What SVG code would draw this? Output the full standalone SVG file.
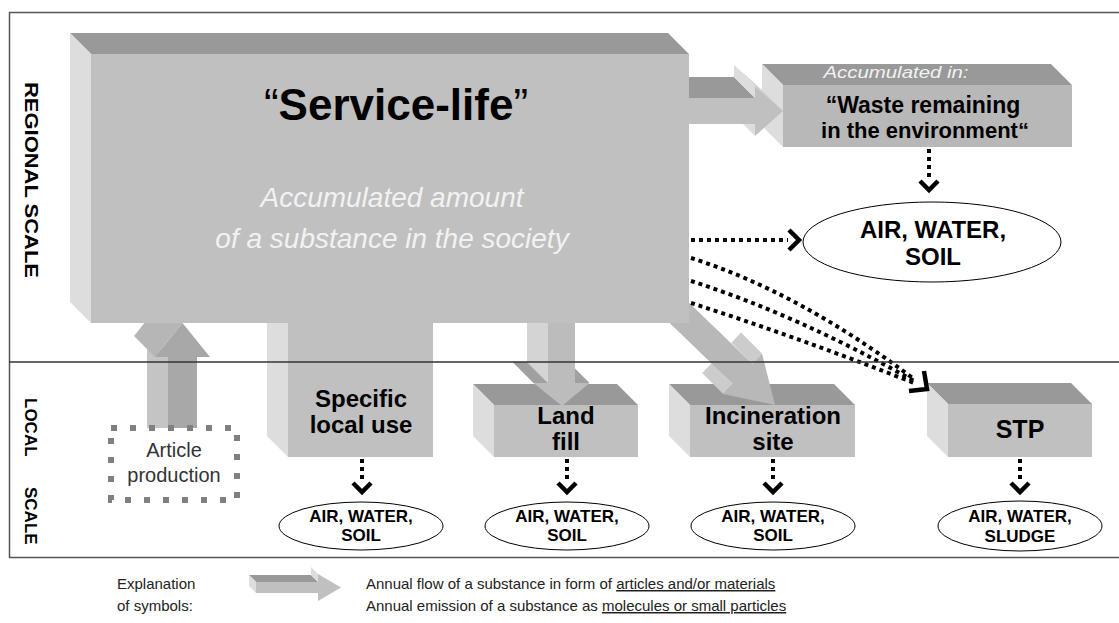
<svg xmlns="http://www.w3.org/2000/svg" width="1119" height="623" viewBox="0 0 1119 623">
<defs>
<style>
.top{fill:#999999}
.side{fill:#dddddd}
.front{fill:#c0c0c0}
.t{font-family:"Liberation Sans",Arial,sans-serif;text-anchor:middle}
.b{font-weight:bold;fill:#000}
.em{fill:none;stroke:#000;stroke-width:4;stroke-dasharray:4 4}
.chev{fill:none;stroke:#000;stroke-width:4.5;stroke-linejoin:miter}
.ell{fill:#fff;stroke:#000;stroke-width:1}
.leg{font-family:"Liberation Sans",Arial,sans-serif;font-size:15px;fill:#222}
</style>
</defs>
<rect width="1119" height="623" fill="#ffffff"/>
<g id="frame">
<rect x="9.5" y="12.5" width="1115" height="545" fill="none" stroke="#555" stroke-width="1.5"/>
</g>
<g id="scale-labels">
<text class="t b" font-size="19" textLength="196" lengthAdjust="spacingAndGlyphs" transform="translate(25,180) rotate(90)">REGIONAL SCALE</text>
<text class="b" font-family="Liberation Sans, Arial, sans-serif" font-size="17" transform="translate(25,0) rotate(90)"><tspan x="398">LOCAL</tspan> <tspan x="487">SCALE</tspan></text>
</g>

<g id="specific-local-use">
<polygon class="side" points="267,279 288,300 288,457 267,436"/>
<rect class="front" x="288" y="300" width="145" height="157"/>
<text class="t b" font-size="24" x="361" y="407">Specific</text>
<text class="t b" font-size="24" x="361" y="433">local use</text>
</g>
<g id="land-fill">
<polygon class="top" points="473,384 617,384 638,405 494,405"/>
<polygon class="side" points="473,384 494,405 494,457 473,436"/>
<rect class="front" x="494" y="405" width="144" height="52"/>
</g>
<g id="incineration-site">
<polygon class="top" points="669,384 834,384 855,405 690,405"/>
<polygon class="side" points="669,384 690,405 690,457 669,436"/>
<rect class="front" x="690" y="405" width="165" height="52"/>
</g>
<g id="stp">
<polygon class="top" points="927,383 1071,383 1092,404 948,404"/>
<polygon class="side" points="927,383 948,404 948,457 927,436"/>
<rect class="front" x="948" y="404" width="144" height="53"/>
<text class="t b" font-size="25" x="1020" y="438">STP</text>
</g>
<g id="waste">
<polygon class="top" points="762,64 1051,64 1072,85 783,85"/>
<polygon class="side" points="762,64 783,85 783,147 762,126"/>
<rect x="783" y="85" width="289" height="62" fill="#b8b8b8"/>
<text class="t" font-size="17" font-style="italic" fill="#f2f2f2" textLength="145" lengthAdjust="spacingAndGlyphs" x="896" y="78">Accumulated in:</text>
<text class="t b" font-size="23" x="923" y="113">“Waste remaining</text>
<text class="t b" font-size="22" x="925" y="138">in the environment“</text>
</g>

<g id="flows">
<g id="flow-article">
<polygon points="168,357 168,450 147,429 147,336" fill="#c4c4c4"/>
<polygon points="155,357 182.5,323 161.5,302 134,336" fill="#b6b6b6"/>
<polygon points="182.5,323 210,357 197,357 197,450 168,450 168,357 155,357" fill="#a8a8a8"/>
</g>
<g id="flow-landfill">
<polygon points="548,290 548,383 527,362 527,269" fill="#d4d4d4"/>
<polygon points="533.5,383 548,383 527,362 512.5,362" fill="#a0a0a0"/>
<polygon points="575,383 589.5,383 568.5,362 554,362" fill="#a0a0a0"/>
<polygon points="548,290 575,290 575,383 589.5,383 562,406 533.5,383 548,383" fill="#bcbcbc"/>
</g>
<g id="flow-incineration">
<polygon points="762,353.6 752.3,363.7 731.3,342.7 741,332.6" fill="#cccccc"/>
<polygon points="732.9,383.9 723.2,394 702.2,373 711.9,362.9" fill="#cccccc"/>
<polygon points="658.7,273.5 752.3,363.7 762,353.6 775,405 723.2,394 732.9,383.9 639.3,293.7" fill="#b8b8b8"/>
</g>
<g id="flow-waste">
<polygon points="689,98 755,98 734,77 668,77" fill="#999999"/>
<polygon points="755,86 783,111 762,90 734,65" fill="#d0d0d0"/>
<polygon points="755,86 755,98 734,77 734,65" fill="#dddddd"/>
<polygon points="755,124 755,136 734,115 734,103" fill="#dddddd"/>
<polygon points="689,98 755,98 755,86 783,111 755,136 755,124 689,124" fill="#c0c0c0"/>
</g>
</g>

<g id="service-life">
<polygon class="top" points="70,33 668,33 689,54 91,54"/>
<polygon class="side" points="70,33 91,54 91,323 70,302"/>
<rect class="front" x="91" y="54" width="598" height="269"/>
<text class="t b" font-size="44" x="396" y="120"><tspan font-weight="normal">“</tspan>Service-life<tspan font-weight="normal">”</tspan></text>
<text class="t" font-size="28" font-style="italic" fill="#f2f2f2" x="392" y="207">Accumulated amount</text>
<text class="t" font-size="28" font-style="italic" fill="#f2f2f2" x="392" y="248">of a substance in the society</text>
</g>

<g id="article-production">
<rect x="111" y="428" width="126" height="72" fill="#ffffff" stroke="#808080" stroke-width="6" stroke-dasharray="6 13"/>
<text class="t" font-size="20" fill="#333" x="174" y="457">Article</text>
<text class="t" font-size="20" fill="#333" x="174" y="482">production</text>
</g>

<g id="landfill-label">
<text class="t b" font-size="24" x="566" y="424">Land</text>
<text class="t b" font-size="24" x="566" y="450">fill</text>
</g>
<g id="incineration-label">
<text class="t b" font-size="24" x="773" y="424">Incineration</text>
<text class="t b" font-size="24" x="773" y="450">site</text>
</g>

<g id="env-regional">
<ellipse class="ell" cx="932" cy="242" rx="129" ry="40"/>
<text class="t b" font-size="24" x="933" y="238">AIR, WATER,</text>
<text class="t b" font-size="24" x="933" y="265">SOIL</text>
</g>
<g id="env-specific">
<ellipse class="ell" cx="361" cy="526" rx="82" ry="24"/>
<text class="t b" font-size="17" x="361" y="522">AIR, WATER,</text>
<text class="t b" font-size="17" x="361" y="541">SOIL</text>
</g>
<g id="env-landfill">
<ellipse class="ell" cx="567" cy="526" rx="82" ry="24"/>
<text class="t b" font-size="17" x="567" y="522">AIR, WATER,</text>
<text class="t b" font-size="17" x="567" y="541">SOIL</text>
</g>
<g id="env-incineration">
<ellipse class="ell" cx="773" cy="526" rx="82" ry="24"/>
<text class="t b" font-size="17" x="773" y="522">AIR, WATER,</text>
<text class="t b" font-size="17" x="773" y="541">SOIL</text>
</g>
<g id="env-stp">
<ellipse class="ell" cx="1020" cy="526" rx="82" ry="25"/>
<text class="t b" font-size="17" x="1020" y="522">AIR, WATER,</text>
<text class="t b" font-size="17" x="1020" y="542">SLUDGE</text>
</g>

<g id="emissions">
<line class="em" x1="691" y1="240" x2="788" y2="240"/>
<polyline class="chev" points="789,230 799,240 789,250"/>
<line class="em" x1="929" y1="149" x2="929" y2="181"/>
<polyline class="chev" points="920,181 929,190 938,181"/>
<line class="em" x1="362" y1="459" x2="362" y2="483"/>
<polyline class="chev" points="353,483 362,492 371,483"/>
<line class="em" x1="567" y1="459" x2="567" y2="483"/>
<polyline class="chev" points="558,483 567,492 576,483"/>
<line class="em" x1="773" y1="459" x2="773" y2="483"/>
<polyline class="chev" points="764,483 773,492 782,483"/>
<line class="em" x1="1020" y1="459" x2="1020" y2="483"/>
<polyline class="chev" points="1011,483 1020,492 1029,483"/>
<path class="em" d="M691,258 Q798.5,292 914,379"/>
<path class="em" d="M691,281 Q798.5,315.5 914,381"/>
<path class="em" d="M691,303 Q798.5,337.5 914,383"/>
<polyline class="chev" stroke-width="5.5" points="909,391 927,389 924,371"/>
</g>

<g id="divider">
<line x1="9" y1="362" x2="1119" y2="362" stroke="#333" stroke-width="1.5"/>
</g>

<g id="legend">
<text class="leg" x="117" y="589">Explanation</text>
<text class="leg" x="117" y="611">of symbols:</text>
<polygon points="256,582 318,582 311,575 249,575" fill="#999999"/>
<polygon points="256,582 256,593 249,586 249,575" fill="#dddddd"/>
<polygon points="318,574 318,582 311,575 311,567" fill="#dddddd"/>
<polygon points="256,582 318,582 318,574 341,587.5 318,601 318,593 256,593" fill="#c0c0c0"/>
<text class="leg" x="366" y="589">Annual flow of a substance in form of <tspan text-decoration="underline">articles and/or materials</tspan></text>
<text class="leg" x="366" y="611">Annual emission of a substance as <tspan text-decoration="underline">molecules or small particles</tspan></text>
</g>
</svg>
